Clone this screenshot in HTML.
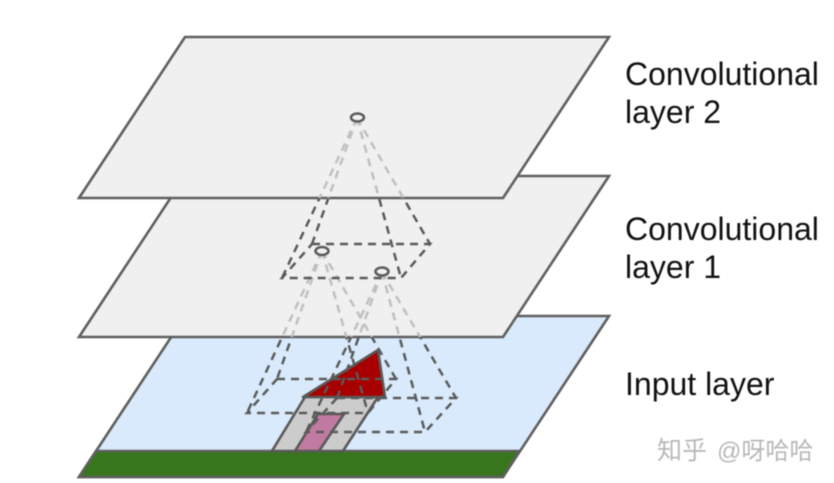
<!DOCTYPE html>
<html>
<head>
<meta charset="utf-8">
<style>
html,body{margin:0;padding:0;background:#fff;width:834px;height:483px;overflow:hidden}
svg{display:block;filter:blur(0.45px)}
text{font-family:"Liberation Sans","Noto Sans CJK SC",sans-serif}
</style>
</head>
<body>
<svg width="834" height="483" viewBox="0 0 834 483" xmlns="http://www.w3.org/2000/svg">
<defs>
<clipPath id="inputDark"><rect x="0" y="337" width="834" height="146"/></clipPath>
<clipPath id="midLight"><rect x="0" y="198" width="834" height="139"/></clipPath>
<clipPath id="topLight"><rect x="0" y="0" width="834" height="198"/></clipPath>
</defs>

<!-- Input layer -->
<polygon points="185,316 609,316 503,477 79,477" fill="#d9eafc" stroke="#5f5f5f" stroke-width="2.600"/>
<polygon points="96,451 519,451 503,477 79,477" fill="#38761d" stroke="#5f5f5f" stroke-width="2.600"/>
<polygon points="272,451 343,451 378,397 305,397" fill="#cccccc" stroke="#595959" stroke-width="2.600"/>
<polygon points="295,451 319,451 344,414 318,414" fill="#c27ba0" stroke="#595959" stroke-width="2.600"/>
<polygon points="303,397 378,350 385,397" fill="#a80000" stroke="#595959" stroke-width="2.600" stroke-linejoin="round"/>

<!-- Dashes on the input layer -->
<g fill="none" stroke="#5a5a5a" stroke-width="2.500" stroke-dasharray="8 6" clip-path="url(#inputDark)">
<path d="M322,251 L277,379 M322,251 L396,379 M322,251 L247,413 M322,251 L368,413"/>
<path d="M382,272 L337,398 M382,272 L456,398 M382,272 L306,432 M382,272 L425,432"/>
<path d="M277,379 L396,379 L368,413 L247,413 Z"/>
<path d="M337,398 L456,398 L425,432 L306,432 Z"/>
</g>

<!-- Middle layer -->
<polygon points="185,176 609,176 503,337 79,337" fill="#f0f0f0" stroke="#5f5f5f" stroke-width="2.600"/>
<g fill="none" stroke="#c0c0c0" stroke-width="2.500" stroke-dasharray="8 6" clip-path="url(#midLight)">
<path d="M322,251 L277,379 M322,251 L396,379 M322,251 L247,413 M322,251 L368,413"/>
<path d="M382,272 L337,398 M382,272 L456,398 M382,272 L306,432 M382,272 L425,432"/>
</g>
<g fill="none" stroke="#5a5a5a" stroke-width="2.500" stroke-dasharray="8 6">
<path d="M357,118 L312,244 M357,118 L430,244 M357,118 L282,278 M357,118 L401,278" clip-path="url(#midLight)"/>
<path d="M312,244 L430,244 L401,278 L282,278 Z"/>
</g>
<ellipse cx="322" cy="251" rx="6.500" ry="4" fill="#f0f0f0" stroke="#5a5a5a" stroke-width="2.500"/>
<ellipse cx="382" cy="271.500" rx="6.500" ry="4" fill="#f0f0f0" stroke="#5a5a5a" stroke-width="2.500"/>

<!-- Top layer -->
<polygon points="185,37 609,37 503,198 79,198" fill="#f0f0f0" stroke="#5f5f5f" stroke-width="2.600"/>
<g fill="none" stroke="#c0c0c0" stroke-width="2.500" stroke-dasharray="8 6" clip-path="url(#topLight)">
<path d="M357,118 L312,244 M357,118 L430,244 M357,118 L282,278 M357,118 L401,278"/>
</g>
<ellipse cx="357.500" cy="117.500" rx="6.500" ry="4" fill="#f0f0f0" stroke="#5a5a5a" stroke-width="2.500"/>

<!-- Labels -->
<g font-size="32" fill="#111">
<text x="625" y="85">Convolutional</text>
<text x="625" y="123">layer 2</text>
<text x="625" y="240">Convolutional</text>
<text x="625" y="278">layer 1</text>
<text x="625" y="395">Input layer</text>
</g>

<!-- Watermark -->
<text x="657" y="459" font-size="25" fill="#b8b8b8">知乎</text>
<text x="717" y="459" font-size="24" fill="#b8b8b8">@呀哈哈</text>
</svg>
</body>
</html>
